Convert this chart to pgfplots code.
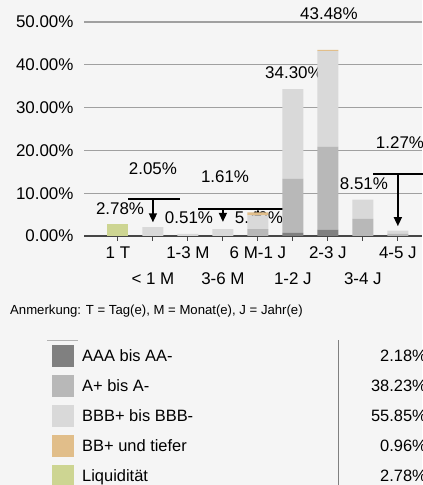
\documentclass[border=0pt]{standalone}
\usepackage{pgfplots}
\pgfplotsset{compat=1.18}
\usepackage{fontspec}
\setmainfont{Liberation Sans}
\usetikzlibrary{arrows.meta}
\definecolor{bg}{RGB}{245,245,245}
\definecolor{gridc}{RGB}{160,160,160}
\definecolor{basec}{RGB}{70,70,70}
\definecolor{caaa}{RGB}{128,128,128}
\definecolor{ca}{RGB}{184,184,184}
\definecolor{cbbb}{RGB}{217,217,217}
\definecolor{cbb}{RGB}{225,190,138}
\definecolor{cliq}{RGB}{205,213,146}
\newcommand{\fs}{\fontsize{17}{20}\selectfont}
\begin{document}
\begin{tikzpicture}[x=1bp,y=1bp]
\useasboundingbox (0,0) rectangle (422,485);
\fill[bg] (0,0) rectangle (422,485);
\begin{axis}[
  at={(84bp,249bp)}, anchor=south west,
  scale only axis, width=338bp, height=214bp,
  xmin=-0.97, xmax=8.69, ymin=0, ymax=50,
  clip=false,
  ybar stacked, bar width=21bp,
  axis line style={draw=none},
  ytick={0,10,20,30,40,50},
  yticklabel={\pgfmathprintnumber[fixed,fixed zerofill,precision=2]{\tick}\%},
  /pgf/number format/assume math mode=true,
  ytick style={draw=none},
  yticklabel style={font=\fs, xshift=-2bp},
  ymajorgrids, grid style={gridc, line width=1.1bp},
  xtick={0,2,4,6,8},
  xticklabels={1 T, 1-3 M, 6 M-1 J, 2-3 J, 4-5 J},
  extra x ticks={1,3,5,7},
  extra x tick labels={< 1 M, 3-6 M, 1-2 J, 3-4 J},
  extra x tick style={xticklabel style={yshift=-26bp}},
  xticklabel style={font=\fs, yshift=-2bp},
  xtick pos=left, tick align=outside, major tick length=5bp,
  x tick style={basec, line width=1.1bp},
]
\addplot[fill=caaa, draw=none] coordinates {(0,0) (1,0) (2,0) (3,0) (4,0) (5,0.7) (6,1.48) (7,0) (8,0)};
\addplot[fill=ca, draw=none] coordinates {(0,0) (1,0) (2,0) (3,0) (4,1.6) (5,12.73) (6,19.4) (7,4.0) (8,0.5)};
\addplot[fill=cbbb, draw=none] coordinates {(0,0) (1,2.05) (2,0.51) (3,1.61) (4,3.23) (5,20.87) (6,22.3) (7,4.51) (8,0.77)};
\addplot[fill=cbb, draw=none] coordinates {(0,0) (1,0) (2,0) (3,0) (4,0.66) (5,0) (6,0.3) (7,0) (8,0)};
\addplot[fill=cliq, draw=none] coordinates {(0,2.78) (1,0) (2,0) (3,0) (4,0) (5,0) (6,0) (7,0) (8,0)};
\draw[basec, line width=1.3bp] (axis cs:-0.97,0) -- (axis cs:8.69,0);
% leader lines
\draw[black, line width=1.5bp] (axis cs:0.29,8.64) -- (axis cs:1.77,8.64);
\draw[black, line width=1.5bp, -{Triangle[width=8bp,length=9bp]}] (axis cs:1,8.64) -- (axis cs:1,3.2);
\draw[black, line width=1.5bp] (axis cs:2.29,6.3) -- (axis cs:3.77,6.3);
\draw[black, line width=1.5bp, -{Triangle[width=8bp,length=9bp]}] (axis cs:3,6.3) -- (axis cs:3,3.3);
\draw[black, line width=1.5bp] (axis cs:3.34,6.3) -- (axis cs:4.74,6.3);
\draw[black, line width=1.5bp, -{Triangle[width=8bp,length=8bp]}] (axis cs:4,4.6) -- (axis cs:4,6.2);
\draw[black, line width=1.5bp] (axis cs:7.29,14.5) -- (axis cs:8.8,14.5);
\draw[black, line width=1.5bp, -{Triangle[width=8bp,length=9bp]}] (axis cs:8,14.5) -- (axis cs:8,2.3);
% value labels
\node[font=\fs, inner sep=0] at (axis cs:0.06,6.3) {2.78\%};
\node[font=\fs, inner sep=0] at (axis cs:1,15.65) {2.05\%};
\node[font=\fs, inner sep=0] at (axis cs:2.03,4.2) {0.51\%};
\node[font=\fs, inner sep=0] at (axis cs:3.06,13.8) {1.61\%};
\node[font=\fs, inner sep=0] at (axis cs:4.03,4.2) {5.49\%};
\node[font=\fs, inner sep=0] at (axis cs:5.03,38.1) {34.30\%};
\node[font=\fs, inner sep=0] at (axis cs:6.03,51.9) {43.48\%};
\node[font=\fs, inner sep=0] at (axis cs:7.03,12.15) {8.51\%};
\node[font=\fs, inner sep=0] at (axis cs:8.06,21.7) {1.27\%};
\end{axis}
% note
\node[anchor=base west, inner sep=0, font=\fontsize{13.2}{15}\selectfont] at (10,170.3) {Anmerkung: T = Tag(e), M = Monat(e), J = Jahr(e)};
% legend table
\draw[gray!60, line width=0.8bp] (47,145) -- (78,145);
\draw[gray, line width=0.8bp] (338,0) -- (338,145);
\foreach \yy/\col/\txt/\val in {129/caaa/AAA bis AA-/2.18, 99/ca/A+ bis A-/38.23, 69/cbbb/BBB+ bis BBB-/55.85, 39/cbb/BB+ und tiefer/0.96, 9/cliq/Liquidität/2.78}{
  \fill[\col] (52,\yy-11) rectangle (74,\yy+11);
  \node[anchor=base west, inner sep=0, font=\fontsize{16.5}{20}\selectfont] at (82,\yy-5.9) {\txt};
  \node[anchor=base east, inner sep=0, font=\fontsize{16.5}{20}\selectfont] at (427,\yy-5.9) {\val\%};
}
\end{tikzpicture}
\end{document}
